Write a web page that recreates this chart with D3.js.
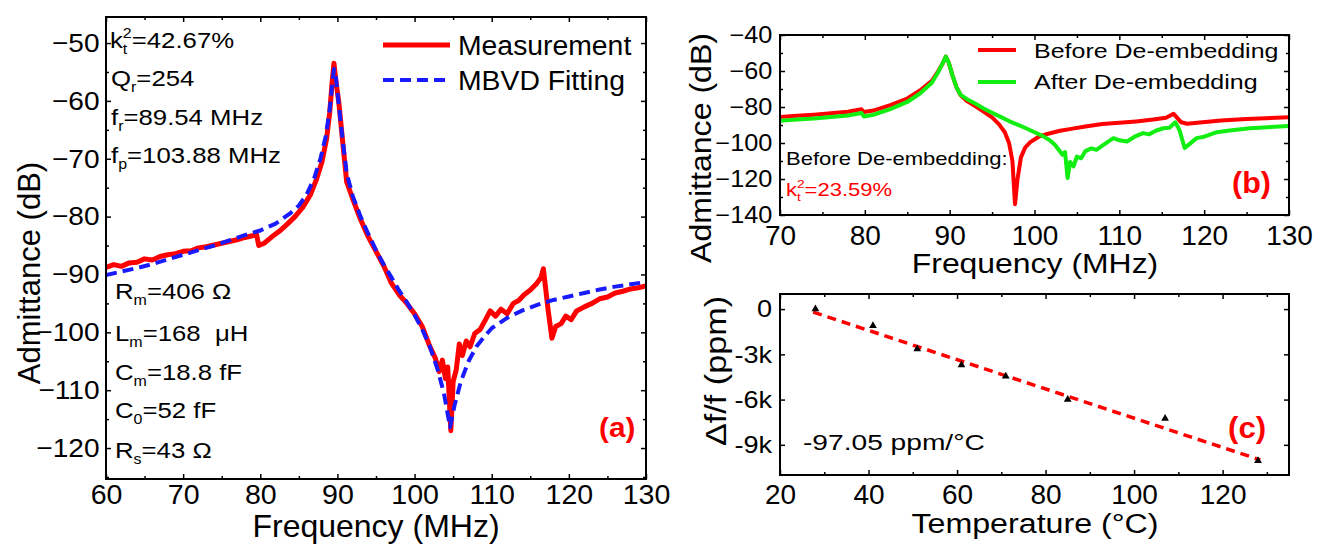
<!DOCTYPE html>
<html>
<head>
<meta charset="utf-8">
<script src="https://cdn.jsdelivr.net/npm/d3@7"></script>
<style>
  body { margin: 0; background: #fff; }
  text { font-family: "Liberation Sans", Arial, sans-serif; }
</style>
</head>
<body>
<script>
const width = 1326;
const height = 544;

// ---- panel (a): admittance, measurement vs MBVD fit ----
const freqA = [60, 61, 62, 63, 64, 65, 66, 67, 68, 69, 70, 71, 72, 73, 74, 75, 76, 77, 78, 79, 79.5, 79.8, 80.5, 81.5, 82.5, 83.5, 84.5, 85.5, 86.5, 87.3, 88, 88.6, 89, 89.3, 89.55, 89.8, 90.2, 90.6, 91.2, 92, 93, 94, 95, 96, 97, 98, 99, 100, 101, 102, 102.7, 103.2, 103.6, 104, 104.3, 104.7, 105, 105.4, 105.8, 106.2, 106.7, 107.2, 107.8, 108.5, 109.2, 109.8, 110.5, 111.2, 112, 112.8, 113.5, 114.2, 115, 115.8, 116.4, 116.7, 117.3, 117.8, 118.3, 119, 119.6, 120.3, 121, 122, 123, 124, 125, 126, 127, 128, 129, 130];
const measA = [-88.8, -88.3, -88.6, -88.0, -87.9, -87.3, -87.5, -86.9, -86.6, -86.4, -86.0, -85.9, -85.4, -85.2, -84.9, -84.6, -84.3, -84.0, -83.6, -83.3, -83.0, -85.0, -84.6, -83.5, -82.5, -81.3, -80.0, -78.4, -76.2, -73.5, -70.5, -66.5, -62, -57, -53.5, -56.5, -60.5, -66, -74, -77, -80.5, -83.5, -86, -88.5, -91.5, -93.5, -95, -96.8, -99, -102.5, -104.5, -106.8, -104.8, -108, -106, -117, -108.5, -106.5, -102, -104, -101.5, -102.5, -100.2, -99.5, -97.8, -96.3, -97.2, -96.0, -96.8, -95.0, -94.5, -93.5, -92.7, -91.6, -90.5, -89, -96, -101, -99, -98.5, -97.2, -97.8, -96.3, -95.6, -95.0, -94.2, -93.9, -93.2, -92.9, -92.5, -92.3, -92.0];
const fitFreqA = [60, 62, 64, 66, 68, 70, 72, 74, 76, 78, 80, 82, 84, 85, 86, 87, 87.8, 88.5, 89, 89.3, 89.55, 89.8, 90.2, 90.7, 91.2, 92, 93, 94, 95, 96, 97, 98, 99, 100, 101, 102, 103, 103.8, 104.6, 105.2, 106, 107, 108, 109, 110, 112, 114, 116, 118, 120, 122, 124, 126, 128, 130];
const fitA = [-90.1, -89.5, -88.9, -88.2, -87.4, -86.6, -85.8, -85.0, -84.1, -83.2, -82.4, -81.2, -79.3, -78.1, -76.2, -73.3, -70, -66, -61.5, -57.5, -54.5, -56, -61, -67, -72.5, -76.5, -80, -83, -85.8, -88.3, -90.5, -92.8, -94.8, -97, -99.5, -102.5, -106.5, -110.5, -116.4, -112.5, -108.5, -105, -102.5, -100.8, -99.3, -97.5, -96.2, -95.2, -94.4, -93.8, -93.2, -92.6, -92.1, -91.7, -91.3];
const ticksAx = [60, 70, 80, 90, 100, 110, 120, 130];
const minorAx = [65, 75, 85, 95, 105, 115, 125];
const ticksAy = [-50, -60, -70, -80, -90, -100, -110, -120];
const minorAy = [-55, -65, -75, -85, -95, -105, -115, -125];

// ---- panel (b): before / after de-embedding ----
const freqBefore = [70, 72, 74, 76, 78, 79.6, 79.9, 81, 83, 85, 86.5, 87.9, 88.6, 89.2, 89.55, 89.9, 90.3, 90.8, 91.3, 92, 93, 94, 95, 95.8, 96.5, 97, 97.4, 97.7, 98.0, 98.4, 98.9, 99.5, 100.5, 101.5, 103, 104.5, 106, 108, 110, 112, 114, 115.5, 116.4, 117.3, 118, 119.5, 122, 125, 130];
const dbBefore = [-85.5, -84.9, -84.3, -83.5, -82.6, -81.3, -82.8, -82.0, -79.0, -75.3, -70.8, -65.5, -60.5, -55.5, -52, -55.5, -62, -69, -73.5, -76.5, -79.5, -82.5, -85.8, -89.5, -94, -100, -110, -134, -120, -108, -102.5, -99.5, -96.5, -95, -93.2, -92, -90.8, -89.5, -88.8, -88, -87, -86, -83.8, -88.5, -89.3, -88.6, -87.5, -86.6, -85.7];
const freqAfter = [70, 72, 74, 76, 78, 79.6, 79.9, 81, 83, 85, 86.5, 87.9, 88.6, 89.2, 89.55, 89.9, 90.3, 90.8, 91.3, 92, 93, 94, 95, 96, 97, 98, 99, 100, 101, 101.8, 102.4, 102.9, 103.3, 103.6, 103.9, 104.2, 104.6, 105, 105.5, 106, 106.7, 107.3, 108, 108.6, 109.3, 110, 110.9, 111.8, 112.8, 113.5, 114.3, 115.2, 115.9, 116.6, 117.1, 117.7, 118.3, 119.1, 120, 121.5, 123, 125.4, 127.5, 130];
const dbAfter = [-87.6, -87.0, -86.4, -85.6, -84.7, -83.3, -85.3, -84.3, -81.2, -77.2, -72.5, -66.5, -61, -55.5, -52, -55.5, -62, -69, -73.3, -75.5, -78, -80.8, -83.2, -85.5, -87.8, -89.8, -91.8, -94, -96.2, -98.5, -101, -104, -106.5, -105, -119.5, -110.5, -113, -107.5, -108.5, -104.5, -103, -103.8, -101.5, -99.5, -97.3, -98.5, -99.2, -96.5, -94.5, -95.2, -93.2, -91.8, -91.5, -88.5, -93, -102.8, -100.5, -97.3, -96.5, -94, -93, -91.8, -91.2, -90.6];
const ticksBx = [70, 80, 90, 100, 110, 120, 130];
const minorBx = [75, 85, 95, 105, 115, 125];
const ticksBy = [-40, -60, -80, -100, -120, -140];
const minorBy = [-50, -70, -90, -110, -130];

// ---- panel (c): frequency drift vs temperature ----
const tempC = [28, 41, 51, 61, 71, 85, 107, 128];
const driftPpm = [0, -1100, -2650, -3700, -4450, -6000, -7250, -10050];
const fitTemp = [27.5, 128.5];
const fitPpm = [-200, -10000];
const ticksCx = [20, 40, 60, 80, 100, 120];
const minorCx = [30, 50, 70, 90, 110, 130];
const ticksCy = [0, -3000, -6000, -9000];
const ticksCyLabels = ["0", "-3k", "-6k", "-9k"];

const RED = "#ff0000";
const BLUE = "#1a1aff";
const GREEN = "#11ee11";

const svg = d3.select("body").append("svg")
  .attr("width", width)
  .attr("height", height)
  .attr("viewBox", [0, 0, width, height]);

svg.append("rect").attr("width", width).attr("height", height).attr("fill", "#fff");

// text with sub/superscripts; parts are strings or {sup, sub}
function rich(g, x, y, parts, o) {
  const f = o.size;
  const t = g.append("text")
    .attr("transform", `translate(${x},${y}) scale(${o.sx || 1},1)`)
    .attr("font-size", f)
    .attr("fill", o.fill || "#000")
    .attr("font-weight", o.weight || null)
    .attr("text-anchor", o.anchor || null)
    .style("white-space", "pre");
  let level = 0, pendingDx = 0;
  parts.forEach(p => {
    if (typeof p === "string") {
      const ts = t.append("tspan").attr("dy", -level).text(p);
      if (pendingDx) ts.attr("dx", pendingDx);
      level = 0; pendingDx = 0;
      return;
    }
    const sf = f * 0.62;
    if (p.sup !== undefined) {
      const s = -0.42 * f;
      const a = t.append("tspan").attr("font-size", sf).attr("dy", s - level).text(p.sup);
      level = s;
      if (p.sub !== undefined) {
        const wa = a.node().getComputedTextLength();
        const s2 = 0.28 * f;
        const b = t.append("tspan").attr("font-size", sf)
          .attr("dx", -wa).attr("dy", s2 - level).text(p.sub);
        level = s2;
        pendingDx = Math.max(0, wa - b.node().getComputedTextLength());
      }
    } else if (p.sub !== undefined) {
      const s2 = 0.28 * f;
      t.append("tspan").attr("font-size", sf).attr("dy", s2 - level).text(p.sub);
      level = s2;
    }
  });
  return t;
}

function panel(cfg) {
  const g = svg.append("g");
  const x = d3.scaleLinear().domain(cfg.xd).range([cfg.l, cfg.r]);
  const y = d3.scaleLinear().domain(cfg.yd).range([cfg.b, cfg.t]);
  const w = cfg.r - cfg.l, h = cfg.b - cfg.t;

  function axis(fn, scale, vals, len, fmt, tr, pad, fs, sx) {
    const a = g.append("g")
      .attr("transform", tr)
      .call(fn(scale).tickValues(vals).tickSize(-len).tickPadding(pad).tickFormat(fmt));
    a.attr("font-family", null);
    a.select(".domain").remove();
    a.selectAll("line").attr("stroke-width", 1.5);
    a.selectAll("text").attr("font-size", fs).attr("transform", `scale(${sx},1)`);
    return a;
  }
  const none = () => "";
  // bottom / top
  axis(d3.axisBottom, x, cfg.xt, 5, cfg.xf || d3.format("d"), `translate(0,${cfg.b})`, cfg.xpad, cfg.xfs, cfg.xsx);
  axis(d3.axisBottom, x, cfg.xm, 3, none, `translate(0,${cfg.b})`, 0, 1, 1);
  axis(d3.axisTop, x, cfg.xt, 5, none, `translate(0,${cfg.t})`, 0, 1, 1);
  axis(d3.axisTop, x, cfg.xm, 3, none, `translate(0,${cfg.t})`, 0, 1, 1);
  // left / right
  axis(d3.axisLeft, y, cfg.yt, 5, cfg.yf || d3.format("d"), `translate(${cfg.l},0)`, cfg.ypad, cfg.yfs, cfg.ysx);
  axis(d3.axisRight, y, cfg.yt, 5, none, `translate(${cfg.r},0)`, 0, 1, 1);
  if (cfg.ym) {
    axis(d3.axisLeft, y, cfg.ym, 3, none, `translate(${cfg.l},0)`, 0, 1, 1);
    axis(d3.axisRight, y, cfg.ym, 3, none, `translate(${cfg.r},0)`, 0, 1, 1);
  }

  const clipId = "clip-" + cfg.name;
  g.append("clipPath").attr("id", clipId)
    .append("rect").attr("x", cfg.l).attr("y", cfg.t).attr("width", w).attr("height", h);
  const plot = g.append("g").attr("clip-path", `url(#${clipId})`);

  g.append("rect")
    .attr("x", cfg.l).attr("y", cfg.t).attr("width", w).attr("height", h)
    .attr("fill", "none").attr("stroke", "#000").attr("stroke-width", 2);

  return { g, plot, x, y };
}

function curve(p, xs, ys, color, sw, dash) {
  const line = d3.line().x(d => p.x(d[0])).y(d => p.y(d[1]));
  return p.plot.append("path")
    .datum(d3.zip(xs, ys))
    .attr("d", line)
    .attr("fill", "none")
    .attr("stroke", color)
    .attr("stroke-width", sw)
    .attr("stroke-linejoin", "round")
    .attr("stroke-dasharray", dash || null);
}

// ===== (a) =====
const pa = panel({
  name: "a", l: 106, r: 646, t: 17, b: 479,
  xd: [60, 130], yd: [-125.35, -45.5],
  xt: ticksAx, xm: minorAx, yt: ticksAy, ym: minorAy,
  xpad: 5, xfs: 28, xsx: 1.02, ypad: 6, yfs: 26, ysx: 1.08
});
curve(pa, freqA, measA, RED, 5);
curve(pa, fitFreqA, fitA, BLUE, 4, "11,6");

pa.g.append("line").attr("x1", 383).attr("x2", 450).attr("y1", 45).attr("y2", 45)
  .attr("stroke", RED).attr("stroke-width", 5);
pa.g.append("line").attr("x1", 383).attr("x2", 450).attr("y1", 80).attr("y2", 80)
  .attr("stroke", BLUE).attr("stroke-width", 4).attr("stroke-dasharray", "11,6");
rich(pa.g, 458, 55, ["Measurement"], { size: 27, sx: 1.05 });
rich(pa.g, 458, 90, ["MBVD Fitting"], { size: 27, sx: 1.05 });

const ann = { size: 23, sx: 1.12 };
rich(pa.g, 110, 48, ["k", { sup: "2", sub: "t" }, "=42.67%"], ann);
rich(pa.g, 111, 86, ["Q", { sub: "r" }, "=254"], ann);
rich(pa.g, 111, 125, ["f", { sub: "r" }, "=89.54 MHz"], ann);
rich(pa.g, 111, 163, ["f", { sub: "p" }, "=103.88 MHz"], ann);
rich(pa.g, 115, 299, ["R", { sub: "m" }, "=406 Ω"], ann);
rich(pa.g, 115, 341, ["L", { sub: "m" }, "=168  μH"], ann);
rich(pa.g, 115, 380, ["C", { sub: "m" }, "=18.8 fF"], ann);
rich(pa.g, 115, 418, ["C", { sub: "0" }, "=52 fF"], ann);
rich(pa.g, 115, 458, ["R", { sub: "s" }, "=43 Ω"], ann);
rich(pa.g, 599, 437, ["(a)"], { size: 28, sx: 1.06, fill: RED, weight: "bold" });

rich(pa.g, 376, 537, ["Frequency (MHz)"], { size: 32, anchor: "middle" });
pa.g.append("text")
  .attr("transform", "translate(40,273) rotate(-90)")
  .attr("text-anchor", "middle").attr("font-size", 31)
  .text("Admittance (dB)");

// ===== (b) =====
const pb = panel({
  name: "b", l: 780, r: 1289, t: 35, b: 215,
  xd: [70, 130], yd: [-140, -40],
  xt: ticksBx, xm: minorBx, yt: ticksBy, ym: minorBy,
  xpad: 10, xfs: 28, xsx: 1.0, ypad: 7, yfs: 23, ysx: 1.1
});
curve(pb, freqBefore, dbBefore, RED, 4);
curve(pb, freqAfter, dbAfter, GREEN, 4);

pb.g.append("line").attr("x1", 978).attr("x2", 1016).attr("y1", 50).attr("y2", 50)
  .attr("stroke", RED).attr("stroke-width", 4);
pb.g.append("line").attr("x1", 978).attr("x2", 1016).attr("y1", 82).attr("y2", 82)
  .attr("stroke", GREEN).attr("stroke-width", 4);
rich(pb.g, 1034, 58, ["Before De-embedding"], { size: 21, sx: 1.19 });
rich(pb.g, 1034, 89, ["After De-embedding"], { size: 21, sx: 1.19 });

rich(pb.g, 786, 165, ["Before De-embedding:"], { size: 19, sx: 1.16 });
rich(pb.g, 786, 196, ["k", { sup: "2", sub: "t" }, "=23.59%"], { size: 19, sx: 1.16, fill: RED });
rich(pb.g, 1232, 193, ["(b)"], { size: 29, sx: 1.05, fill: RED, weight: "bold" });

rich(pb.g, 1035, 273, ["Frequency (MHz)"], { size: 28, sx: 1.14, anchor: "middle" });
pb.g.append("text")
  .attr("transform", "translate(711,148) rotate(-90) scale(1.07,1)")
  .attr("text-anchor", "middle").attr("font-size", 30)
  .text("Admittance (dB)");

// ===== (c) =====
const pc = panel({
  name: "c", l: 780, r: 1289, t: 294, b: 475,
  xd: [20, 135], yd: [-11000, 1000],
  xt: ticksCx, xm: minorCx, yt: ticksCy,
  xf: d3.format("d"), yf: (d, i) => ticksCyLabels[i],
  xpad: 9, xfs: 28, xsx: 1.0, ypad: 7, yfs: 24, ysx: 1.13
});
curve(pc, fitTemp, fitPpm, RED, 3.5, "9,6");
pc.plot.selectAll(".pt")
  .data(d3.zip(tempC, driftPpm))
  .join("path")
  .attr("class", "pt")
  .attr("transform", d => `translate(${pc.x(d[0])},${pc.y(d[1])})`)
  .attr("d", d3.symbol(d3.symbolTriangle, 26))
  .attr("fill", "#000");

rich(pc.g, 803, 450, ["-97.05 ppm/°C"], { size: 22, sx: 1.28 });
rich(pc.g, 1228, 438, ["(c)"], { size: 30, sx: 1.04, fill: RED, weight: "bold" });

rich(pc.g, 1035, 533, ["Temperature (°C)"], { size: 28, sx: 1.15, anchor: "middle" });
pc.g.append("text")
  .attr("transform", "translate(726,371) rotate(-90) scale(1.18,1)")
  .attr("text-anchor", "middle").attr("font-size", 29)
  .text("Δf/f (ppm)");
</script>
</body>
</html>
